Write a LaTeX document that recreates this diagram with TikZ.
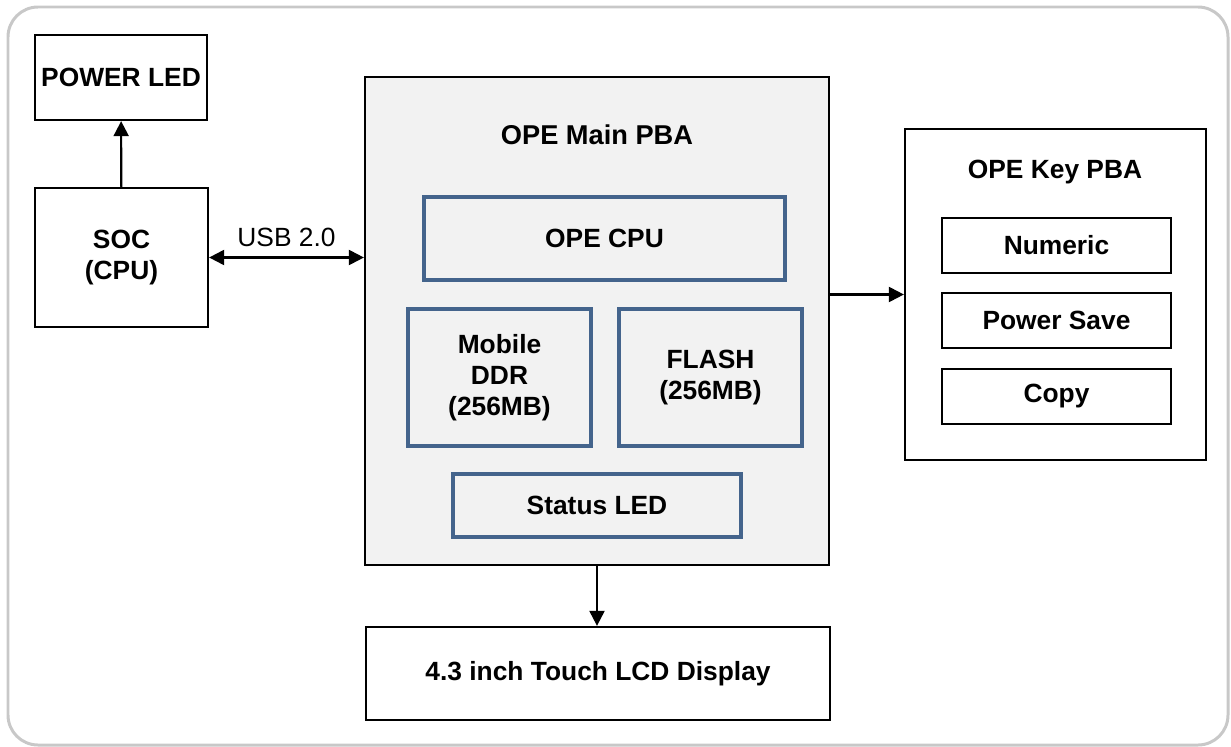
\documentclass[tikz,border=0pt]{standalone}
\usepackage{fontspec}
\setmainfont{Liberation Sans}
\usetikzlibrary{arrows.meta, positioning}

\definecolor{frameGray}{RGB}{200,200,200}
\definecolor{pbaFill}{RGB}{242,242,242}
\definecolor{chipBlue}{RGB}{68,100,140}

\begin{document}
\begin{tikzpicture}[
    x=0.02cm, y=-0.02cm,
    block/.style={rectangle, draw=black, fill=white, line width=1.3pt, align=center, inner sep=0pt, font=\fontsize{15}{17.5}\selectfont\bfseries},
    pba/.style={block, fill=pbaFill},
    chip/.style={rectangle, draw=chipBlue, line width=2.1pt, align=center, inner sep=0pt, font=\fontsize{15}{17.5}\selectfont\bfseries},
    key/.style={block, minimum width=4.58cm, minimum height=1.10cm},
    arrow/.style={-{Triangle[length=3mm, width=3mm]}, line width=1.2pt},
    biarrow/.style={{Triangle[length=3mm, width=3mm]}-{Triangle[length=3mm, width=3mm]}, line width=1.2pt},
]

% Canvas and frame
\useasboundingbox (0,0) rectangle (1231,747);
\draw[frameGray, line width=1.7pt, rounded corners=0.6cm] (8,7) rectangle (1228,745);

% Left side
\node[block, minimum width=3.44cm, minimum height=1.70cm] (pwrled) at (121,77.5) {POWER LED};
\node[block, minimum width=3.46cm, minimum height=2.78cm] (soc) at (121.5,257.5) {SOC\\(CPU)};

% OPE Main PBA
\node[pba, minimum width=9.28cm, minimum height=9.76cm] (mainpba) at (597,321) {};
\node[font=\fontsize{15.5}{18}\selectfont\bfseries] (maintitle) at (597,135) {OPE Main PBA};
\node[chip, minimum width=7.22cm, minimum height=1.66cm] (opecpu) at (604.5,238.5) {OPE CPU};
\node[chip, minimum width=3.66cm, minimum height=2.74cm] (ddr) at (499.5,377.5) {Mobile\\DDR\\(256MB)};
\node[chip, minimum width=3.66cm, minimum height=2.74cm] (flash) at (710.5,377.5) {FLASH\\(256MB)};
\node[chip, minimum width=5.76cm, minimum height=1.26cm] (statled) at (597,505.5) {Status LED};

% OPE Key PBA
\node[block, minimum width=6.02cm, minimum height=6.62cm] (keypba) at (1055.5,294.5) {};
\node[font=\fontsize{15}{18}\selectfont\bfseries] (keytitle) at (1055,172) {OPE Key PBA};
\node[key] (numeric) at (1056.5,245.5) {Numeric};
\node[key] (pwrsave) at (1056.5,320.5) {Power Save};
\node[key] (copy) at (1056.5,396.5) {Copy};

% Display
\node[block, minimum width=9.28cm, minimum height=1.86cm] (lcd) at (598,673.5) {4.3 inch Touch LCD Display};

% Arrows
\draw[arrow] (soc) -- (pwrled);
\draw[biarrow] (soc.east) -- node[above=2pt, font=\fontsize{15}{18}\selectfont] {USB 2.0} (soc.east -| mainpba.west);
\draw[arrow] (mainpba.east |- keypba) -- (keypba.west);
\draw[arrow] (mainpba.south) -- (mainpba.south |- lcd.north);

\end{tikzpicture}
\end{document}
